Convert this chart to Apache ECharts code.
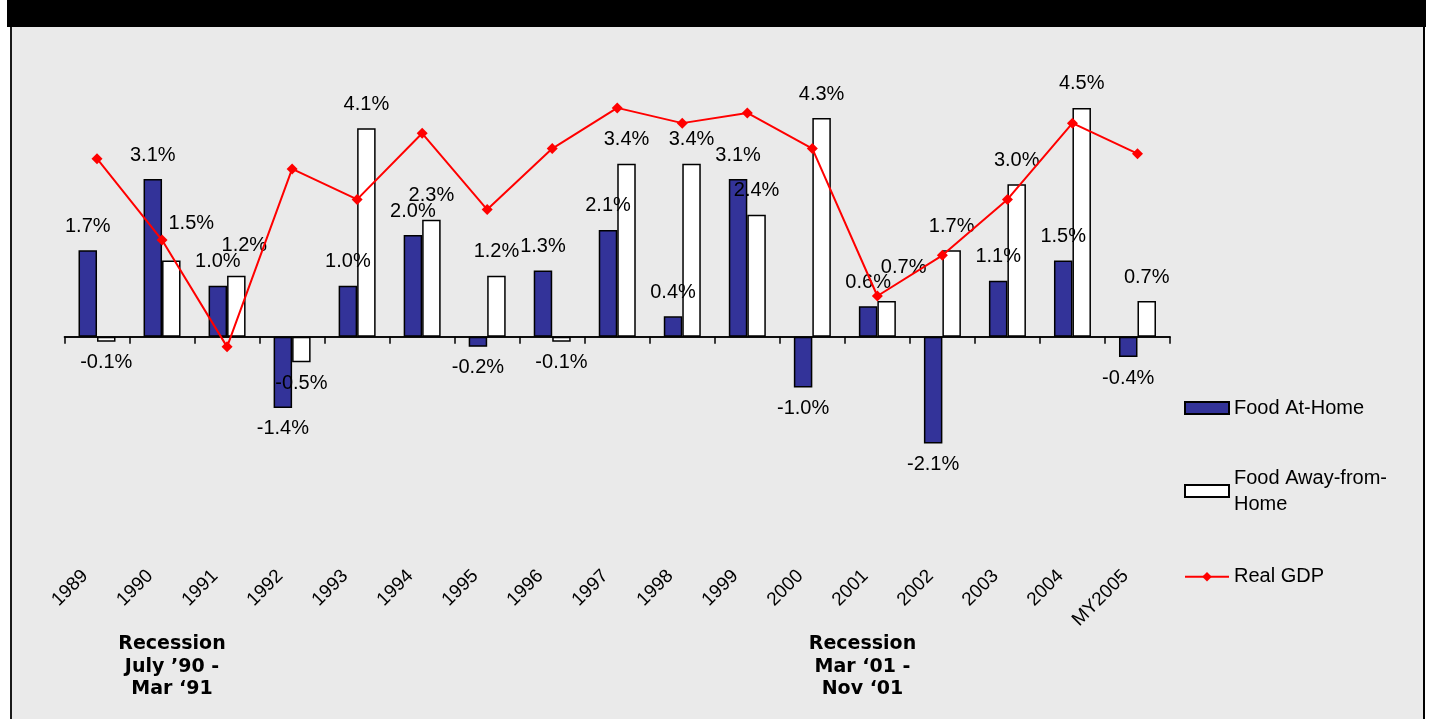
<!DOCTYPE html>
<html>
<head>
<meta charset="utf-8">
<title>Food price changes and Real GDP</title>
<script src="https://cdn.jsdelivr.net/npm/echarts@6/dist/echarts.min.js"></script>
<style>
  html, body { margin: 0; padding: 0; background: #ffffff; }
  #band { position: absolute; left: 7px; top: 0; width: 1419px; height: 27px; background: #000000; }
  #panel { position: absolute; left: 10px; top: 27px; width: 1411px; height: 692px; background: #EAEAEA;
           border-left: 2px solid #1a1a1a; border-right: 2px solid #000000; }
  #chart { position: absolute; left: 0; top: 0; width: 1430px; height: 719px; }
</style>
</head>
<body>
<div id="band"></div>
<div id="panel"></div>
<div id="chart"></div>
<script>
// Annual percent change
const years = ['1989', '1990', '1991', '1992', '1993', '1994', '1995', '1996', '1997',
               '1998', '1999', '2000', '2001', '2002', '2003', '2004', 'MY2005'];
const foodAtHome = [1.7, 3.1, 1.0, -1.4, 1.0, 2.0, -0.2, 1.3, 2.1, 0.4, 3.1, -1.0, 0.6, -2.1, 1.1, 1.5, -0.4];
const foodAwayFromHome = [-0.1, 1.5, 1.2, -0.5, 4.1, 2.3, 1.2, -0.1, 3.4, 3.4, 2.4, 4.3, 0.7, 1.7, 3.0, 4.5, 0.7];
const realGdp = [3.5, 1.9, -0.2, 3.3, 2.7, 4.0, 2.5, 3.7, 4.5, 4.2, 4.4, 3.7, 0.8, 1.6, 2.7, 4.2, 3.6];

const seriesNames = ['Food At-Home', 'Food Away-from-Home', 'Real GDP'];
const recessionNotes = ['Recession\nJuly \u201990 -\nMar \u201891', 'Recession\nMar \u201801 -\nNov \u201801'];

// A few away-from-home labels are nudged clear of the GDP line (pixel offsets by category index)
const awayLabelNudge = { 1: [20, -13], 2: [8, -6], 12: [17, -10] };

const textFont = "'Liberation Sans', Arial, Helvetica, sans-serif";
const pctFmt = p => p.value.toFixed(1) + '%';

function barData(values, nudge) {
  return values.map((v, i) => {
    const label = { distance: v < 0 ? 11 : 14 };
    if (nudge && nudge[i]) label.offset = nudge[i];
    return { value: v, label: label };
  });
}

const Y_MIN = -4, Y_MAX = 5;
const plotBox = { top: 82.45, height: 457.65, width: 1105.5 };

const chart = echarts.init(document.getElementById('chart'), null, { renderer: 'canvas' });

const labelBase = {
  show: true,
  position: 'outside',
  formatter: pctFmt,
  color: '#000000',
  fontFamily: textFont,
  fontSize: 20
};

const option = {
  animation: false,
  backgroundColor: 'transparent',
  textStyle: { fontFamily: textFont },
  grid: [
    { left: 64.5, top: plotBox.top, width: plotBox.width, height: plotBox.height, outerBoundsMode: 'none', containLabel: false },
    { left: 52.5, top: plotBox.top, width: plotBox.width, height: plotBox.height, outerBoundsMode: 'none', containLabel: false }
  ],
  xAxis: [
    {
      gridIndex: 0, type: 'category', data: years,
      axisLine: { show: true, onZero: true, onZeroAxisIndex: 0, lineStyle: { color: '#000000', width: 1.5 } },
      axisTick: { show: true, inside: false, length: 7, lineStyle: { color: '#000000', width: 1.5 } },
      axisLabel: { show: false },
      splitLine: { show: false }
    },
    {
      gridIndex: 0, type: 'category', data: years,
      axisLine: { show: true, onZero: true, onZeroAxisIndex: 0, lineStyle: { color: '#000000', width: 1.5 } },
      axisTick: { show: true, inside: true, length: 7, lineStyle: { color: '#000000', width: 1.5 } },
      axisLabel: { show: false },
      splitLine: { show: false }
    },
    {
      gridIndex: 1, type: 'category', data: years, position: 'bottom',
      axisLine: { show: false, onZero: false },
      axisTick: { show: false },
      splitLine: { show: false },
      axisLabel: {
        show: true, interval: 0, rotate: 45, margin: 33,
        color: '#000000', fontFamily: textFont, fontSize: 19
      }
    }
  ],
  yAxis: [
    { gridIndex: 0, type: 'value', min: Y_MIN, max: Y_MAX, show: false, splitLine: { show: false } },
    { gridIndex: 1, type: 'value', min: Y_MIN, max: Y_MAX, show: false, splitLine: { show: false } }
  ],
  legend: [
    {
      data: [seriesNames[0]], orient: 'vertical', left: 1184, top: 396, padding: 0,
      icon: 'rect', itemWidth: 44, itemHeight: 12,
      textStyle: { color: '#000000', fontFamily: textFont, fontSize: 20, lineHeight: 24 }
    },
    {
      data: [seriesNames[1]], orient: 'vertical', left: 1184, top: 452, padding: 0,
      icon: 'rect', itemWidth: 44, itemHeight: 12,
      formatter: () => 'Food Away-from-\nHome',
      textStyle: { color: '#000000', fontFamily: textFont, fontSize: 20, lineHeight: 26, padding: [26, 0, 0, 0] }
    },
    {
      data: [seriesNames[2]], orient: 'vertical', left: 1184, top: 564.7, padding: 0,
      itemWidth: 44, itemHeight: 12,
      textStyle: { color: '#000000', fontFamily: textFont, fontSize: 20, lineHeight: 24 }
    }
  ],
  series: [
    {
      name: seriesNames[0], type: 'bar', xAxisIndex: 0, yAxisIndex: 0,
      data: barData(foodAtHome),
      barWidth: 18.5, barGap: '0%',
      itemStyle: { color: '#333399', borderColor: '#000000', borderWidth: 1.5 },
      label: labelBase,
      z: 2
    },
    {
      name: seriesNames[1], type: 'bar', xAxisIndex: 0, yAxisIndex: 0,
      data: barData(foodAwayFromHome, awayLabelNudge),
      barWidth: 18.5, barGap: '0%',
      itemStyle: { color: '#FFFFFF', borderColor: '#000000', borderWidth: 1.5 },
      label: labelBase,
      z: 2
    },
    {
      name: seriesNames[2], type: 'line', xAxisIndex: 0, yAxisIndex: 0,
      data: realGdp,
      symbol: 'diamond', symbolSize: 11, showSymbol: true,
      lineStyle: { color: '#FF0000', width: 2 },
      itemStyle: { color: '#FF0000' },
      label: { show: false },
      z: 4
    }
  ],
  graphic: recessionNotes.map((txt, i) => ({
    type: 'text',
    x: i === 0 ? 172 : 862.5,
    y: 633,
    silent: true,
    style: {
      text: txt,
      align: 'center',
      verticalAlign: 'top',
      fill: '#000000',
      fontFamily: "'DejaVu Sans', Verdana, sans-serif",
      fontWeight: 'bold',
      fontSize: 19,
      lineHeight: 22.5
    }
  }))
};

chart.setOption(option);
</script>
</body>
</html>
